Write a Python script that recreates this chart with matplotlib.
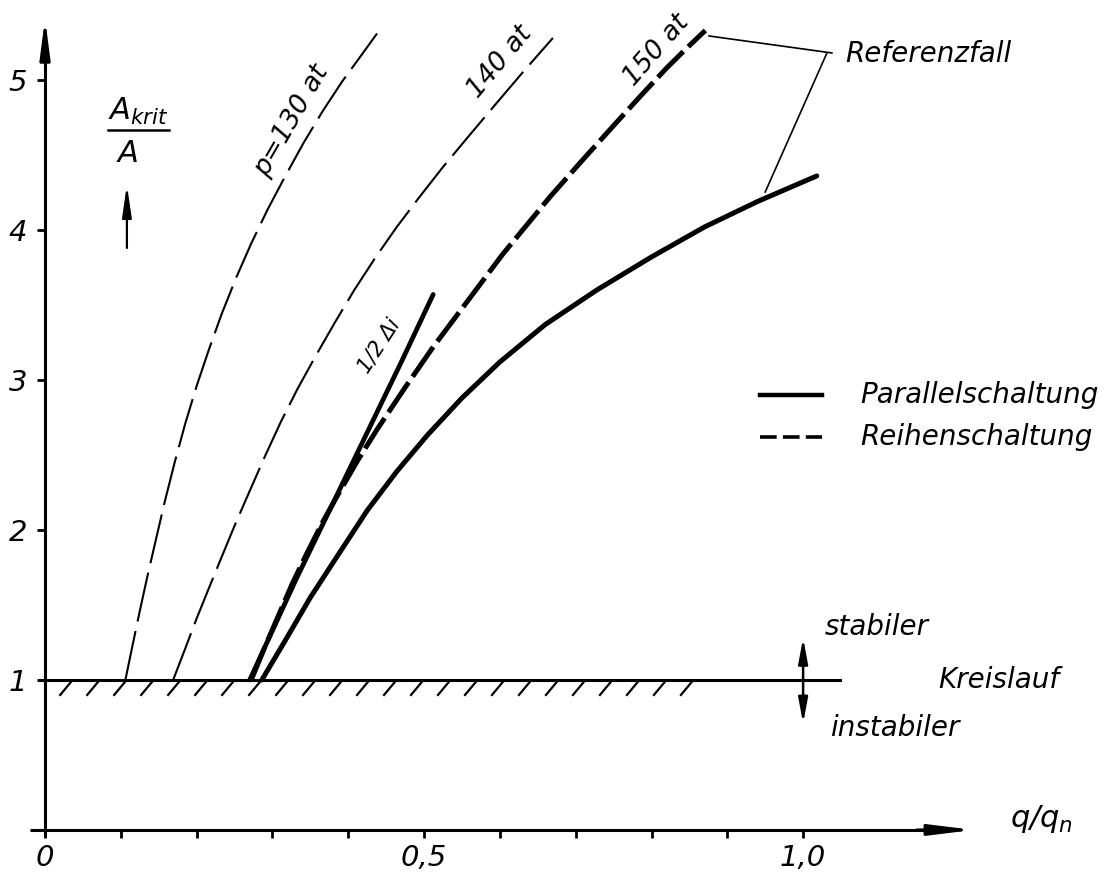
"""
Kritisches Drosselverhältnis A_krit/A über q/q_n
"""

import numpy as np
import matplotlib
matplotlib.use('Agg')
import matplotlib.pyplot as plt

# Kurven: x = q/q_n, y = A_krit/A
q_130 = [0.106, 0.115, 0.125, 0.135, 0.146, 0.158, 0.171, 0.185, 0.200, 0.216,
         0.233, 0.252, 0.272, 0.294, 0.317, 0.341, 0.366, 0.392, 0.418, 0.438]
a_130 = [1.00, 1.22, 1.46, 1.69, 1.93, 2.19, 2.45, 2.71, 2.96, 3.20,
         3.44, 3.68, 3.91, 4.14, 4.36, 4.58, 4.79, 4.99, 5.17, 5.31]

q_140 = [0.169, 0.185, 0.200, 0.216, 0.233, 0.251, 0.270, 0.290, 0.311, 0.333, 0.357,
         0.382, 0.408, 0.435, 0.464, 0.494, 0.525, 0.558, 0.593, 0.630, 0.670]
a_140 = [1.00, 1.21, 1.41, 1.61, 1.82, 2.04, 2.26, 2.49, 2.72, 2.94, 3.16,
         3.38, 3.60, 3.81, 4.02, 4.22, 4.42, 4.62, 4.83, 5.05, 5.28]

q_150 = [0.272, 0.290, 0.308, 0.326, 0.345, 0.366, 0.388, 0.412, 0.438, 0.475, 0.512,
         0.558, 0.604, 0.635, 0.666, 0.708, 0.749, 0.785, 0.820, 0.846, 0.871]
a_150 = [1.00, 1.22, 1.43, 1.64, 1.84, 2.05, 2.25, 2.46, 2.67, 2.95, 3.22,
         3.53, 3.84, 4.03, 4.22, 4.46, 4.69, 4.89, 5.08, 5.21, 5.33]

q_di = [0.270, 0.300, 0.332, 0.380, 0.425, 0.470, 0.512]
a_di = [1.00, 1.33, 1.68, 2.18, 2.65, 3.12, 3.57]

q_ref = [0.286, 0.320, 0.350, 0.390, 0.425, 0.464, 0.504, 0.550, 0.600, 0.660,
         0.728, 0.800, 0.870, 0.940, 1.018]
a_ref = [1.00, 1.29, 1.55, 1.86, 2.13, 2.39, 2.63, 2.88, 3.12, 3.37,
         3.60, 3.82, 4.02, 4.19, 4.36]

x_ticks = [0.0, 0.1, 0.2, 0.3, 0.4, 0.5, 0.6, 0.7, 0.8, 0.9, 1.0]
x_ticklabels = ['0', '', '', '', '', '0,5', '', '', '', '', '1,0']
y_ticks = [1, 2, 3, 4, 5]
y_ticklabels = ['1', '2', '3', '4', '5']

plt.rcParams['font.family'] = 'DejaVu Sans'
plt.rcParams['font.style'] = 'italic'
plt.rcParams['mathtext.fontset'] = 'dejavusans'
plt.rcParams['lines.scale_dashes'] = False


def arrow(ax, x0, y0, x1, y1, hl=2.2, hw=0.3, lw=2.0):
    ax.annotate('', xy=(x1, y1), xytext=(x0, y0),
                arrowprops=dict(arrowstyle=f'-|>,head_length={hl},head_width={hw}',
                                lw=lw, color='black', mutation_scale=10,
                                shrinkA=0, shrinkB=0))


def create_plot():
    fig = plt.figure(figsize=(11.2, 8.73), dpi=100)
    ax = fig.add_axes([0, 0, 1, 1])
    ax.set_xlim(-0.0594, 1.418)
    ax.set_ylim(-0.287, 5.533)

    # Achsen: Spines nur für die Ticks, Linien selbst gezeichnet
    for s in ['top', 'right']:
        ax.spines[s].set_visible(False)
    ax.spines['left'].set_position(('data', 0))
    ax.spines['bottom'].set_position(('data', 0))
    ax.spines['left'].set_linewidth(0)
    ax.spines['bottom'].set_linewidth(0)
    ax.plot([0, 0], [-0.05, 5.3], color='black', lw=2.2, solid_capstyle='butt')
    ax.plot([-0.02, 1.18], [0, 0], color='black', lw=2.2, solid_capstyle='butt')
    arrow(ax, 0, 5.2, 0, 5.41, hl=2.3, hw=0.3, lw=2.2)
    arrow(ax, 1.15, 0, 1.225, 0, hl=2.6, hw=0.32, lw=2.2)

    ax.set_xticks(x_ticks)
    ax.set_xticklabels(x_ticklabels)
    ax.set_yticks(y_ticks)
    ax.set_yticklabels(y_ticklabels)
    ax.tick_params(axis='both', direction='out', length=6, width=2.0,
                   labelsize=21, pad=4)
    ax.tick_params(axis='y', pad=7)

    # Stabilitätsgrenze
    ax.plot([-0.007, 1.049], [1, 1], color='black', lw=2.2)
    for xh in np.arange(0.02, 0.84, 0.0356):
        ax.plot([xh, xh + 0.014], [0.90, 0.985], color='black', lw=1.6)

    # Reihenschaltung (gestrichelt)
    l130, = ax.plot(q_130, a_130, color='black', lw=1.5)
    l130.set_dashes((36, 7))
    l140, = ax.plot(q_140, a_140, color='black', lw=1.5)
    l140.set_dashes((36, 7))
    l150, = ax.plot(q_150, a_150, color='black', lw=3.6)
    l150.set_dashes((26, 5))

    # Parallelschaltung (durchgezogen)
    ax.plot(q_di, a_di, color='black', lw=3.4, solid_capstyle='round')
    ax.plot(q_ref, a_ref, color='black', lw=3.6, solid_capstyle='round')

    # Kurvenbeschriftung
    ax.text(0.325, 4.73, 'p=130 at', rotation=60, ha='center', va='center',
            rotation_mode='anchor', fontsize=19)
    ax.text(0.600, 5.12, '140 at', rotation=50, ha='center', va='center',
            rotation_mode='anchor', fontsize=19)
    ax.text(0.807, 5.20, '150 at', rotation=49, ha='center', va='center',
            rotation_mode='anchor', fontsize=19)
    ax.text(0.440, 3.23, '1/2 Δi', rotation=57, ha='center', va='center',
            rotation_mode='anchor', fontsize=15)

    # Ordinatenbezeichnung
    ax.text(0.123, 4.79, r'$A_{krit}$', ha='center', va='center', fontsize=22)
    ax.plot([0.083, 0.163], [4.667, 4.667], color='black', lw=1.8)
    ax.text(0.109, 4.51, 'A', ha='center', va='center', fontsize=22)
    arrow(ax, 0.108, 3.88, 0.108, 4.30, hl=1.9, hw=0.28, lw=1.6)

    # Abszissenbezeichnung
    ax.text(1.273, 0.07, r'$q/q_n$', ha='left', va='center', fontsize=22)

    # Stabilitätsbereiche
    arrow(ax, 1.0, 1.0, 1.0, 1.28, hl=1.5, hw=0.28, lw=1.8)
    arrow(ax, 1.0, 1.0, 1.0, 0.71, hl=1.5, hw=0.28, lw=1.8)
    ax.text(1.029, 1.35, 'stabiler', ha='left', va='center', fontsize=20)
    ax.text(1.178, 1.0, 'Kreislauf', ha='left', va='center', fontsize=20)
    ax.text(1.036, 0.68, 'instabiler', ha='left', va='center', fontsize=20)

    # Legende
    ax.plot([0.943, 1.025], [2.90, 2.90], color='black', lw=3.2)
    ld, = ax.plot([0.943, 1.025], [2.62, 2.62], color='black', lw=2.6)
    ld.set_dashes((12, 4.5))
    ax.text(1.075, 2.90, 'Parallelschaltung', ha='left', va='center', fontsize=20)
    ax.text(1.075, 2.62, 'Reihenschaltung', ha='left', va='center', fontsize=20)

    # Referenzfall mit Hinweislinien
    ax.plot([0.876, 1.038], [5.293, 5.18], color='black', lw=1.2)
    ax.plot([1.031, 0.950], [5.175, 4.253], color='black', lw=1.2)
    ax.text(1.055, 5.17, 'Referenzfall', ha='left', va='center', fontsize=20)

    fig.savefig('out.png', dpi=100)
    plt.close(fig)


if __name__ == "__main__":
    create_plot()
